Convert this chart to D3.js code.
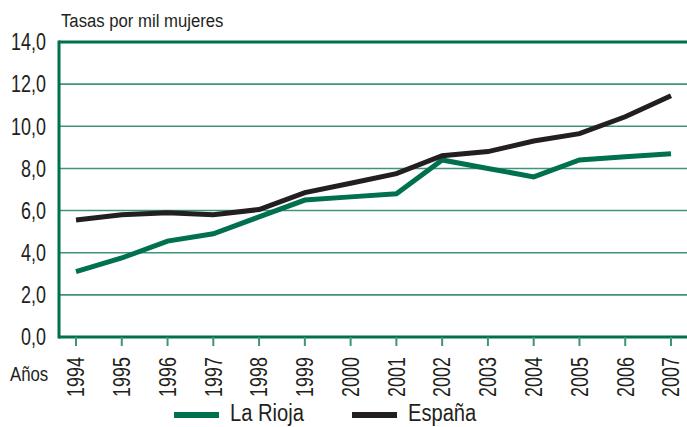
<!DOCTYPE html>
<html>
<head>
<meta charset="utf-8">
<script src="https://cdn.jsdelivr.net/npm/d3@7"></script>
<style>
  body { margin: 0; background: #fff; }
  svg text { font-family: "Liberation Sans", Arial, sans-serif; fill: #231f20; }
</style>
</head>
<body>
<div id="chart"></div>
<script>
// data
const years = [1994, 1995, 1996, 1997, 1998, 1999, 2000, 2001, 2002, 2003, 2004, 2005, 2006, 2007];
const laRioja = [3.1, 3.75, 4.55, 4.9, 5.7, 6.5, 6.65, 6.8, 8.4, 8.0, 7.6, 8.4, 8.55, 8.7];
const espana = [5.55, 5.8, 5.9, 5.8, 6.05, 6.85, 7.3, 7.75, 8.6, 8.8, 9.3, 9.65, 10.45, 11.45];
const yTicks = [0, 2, 4, 6, 8, 10, 12, 14];
const seriesNames = ['La Rioja', 'España'];

const width = 687;
const height = 427;
const green = '#00704f';
const grid = '#3f9478';
const black = '#231f20';
const squeeze = 0.78; // condensed look of the original typeface

const svg = d3.select('#chart')
  .append('svg')
    .attr('width', width)
    .attr('height', height);

// scales
const x = d3.scaleLinear().domain([1994, 2007]).range([76, 671]);
const y = d3.scaleLinear().domain([0, 14]).range([337, 42]);
const left = 59;

// gridlines
svg.selectAll('.grid')
  .data(yTicks.filter(d => d > 0 && d < 14))
  .join('line')
    .attr('x1', left)
    .attr('x2', width)
    .attr('y1', d => y(d))
    .attr('y2', d => y(d))
    .attr('stroke', grid)
    .attr('stroke-width', 1.6);

// top border
svg.append('line')
  .attr('x1', left).attr('x2', width)
  .attr('y1', y(14)).attr('y2', y(14))
  .attr('stroke', green).attr('stroke-width', 3);

// bottom axis
svg.append('line')
  .attr('x1', left).attr('x2', width)
  .attr('y1', y(0)).attr('y2', y(0))
  .attr('stroke', green).attr('stroke-width', 3);

// left axis
svg.append('line')
  .attr('x1', left).attr('x2', left)
  .attr('y1', y(14) - 1.5).attr('y2', y(0) + 1.5)
  .attr('stroke', green).attr('stroke-width', 3);

// x ticks
svg.selectAll('.xtick')
  .data(years)
  .join('line')
    .attr('x1', d => x(d)).attr('x2', d => x(d))
    .attr('y1', y(0)).attr('y2', y(0) + 9)
    .attr('stroke', grid).attr('stroke-width', 2);

// x labels, rotated
svg.selectAll('.xlabel')
  .data(years)
  .join('text')
    .attr('transform', d => `translate(${x(d)},357) rotate(-90) scale(${squeeze},1)`)
    .attr('text-anchor', 'end')
    .attr('dy', '0.36em')
    .attr('font-size', 23)
    .text(d => d);

// y labels
svg.selectAll('.ylabel')
  .data(yTicks)
  .join('text')
    .attr('transform', d => `translate(46,${y(d)}) scale(${squeeze},1)`)
    .attr('dy', '0.36em')
    .attr('text-anchor', 'end')
    .attr('font-size', 23)
    .text(d => d.toFixed(1).replace('.', ','));

// title and axis name
svg.append('text')
  .attr('transform', 'translate(61,27) scale(0.88,1)')
  .attr('font-size', 19)
  .text('Tasas por mil mujeres');

svg.append('text')
  .attr('transform', `translate(10,381) scale(0.8,1)`)
  .attr('font-size', 21)
  .text('Años');

// lines
const line = d3.line()
  .x((d, i) => x(years[i]))
  .y(d => y(d));

svg.append('path')
  .datum(laRioja)
  .attr('d', line)
  .attr('fill', 'none')
  .attr('stroke', green)
  .attr('stroke-width', 5);

svg.append('path')
  .datum(espana)
  .attr('d', line)
  .attr('fill', 'none')
  .attr('stroke', black)
  .attr('stroke-width', 5);

// legend
const legendX = [174, 352];
const legendColors = [green, black];
svg.selectAll('.legend-line')
  .data(seriesNames)
  .join('line')
    .attr('x1', (d, i) => legendX[i])
    .attr('x2', (d, i) => legendX[i] + 45)
    .attr('y1', 415)
    .attr('y2', 415)
    .attr('stroke', (d, i) => legendColors[i])
    .attr('stroke-width', 6);

svg.selectAll('.legend-text')
  .data(seriesNames)
  .join('text')
    .attr('transform', (d, i) => `translate(${legendX[i] + 56},421) scale(0.875,1)`)
    .attr('font-size', 23)
    .text(d => d);
</script>
</body>
</html>
